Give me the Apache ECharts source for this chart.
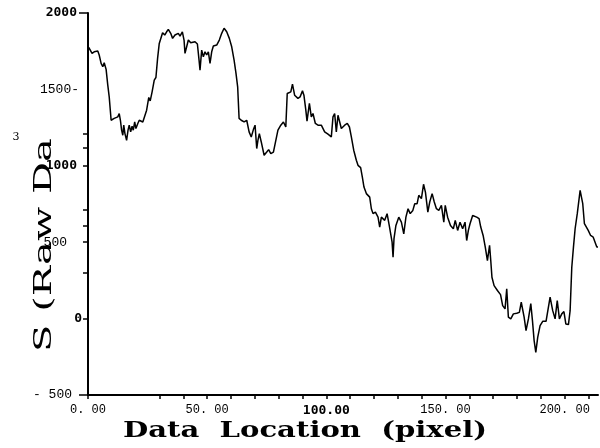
<!DOCTYPE html>
<html>
<head>
<meta charset="utf-8">
<script src="https://cdn.jsdelivr.net/npm/echarts@6/dist/echarts.min.js"></script>
<style>html,body{margin:0;padding:0;background:#fff}#c{width:600px;height:448px}</style>
</head>
<body>
<div id="c"></div>
<script>
// Data location (pixel)
var xVals = [0.3,1.7,2.6,4.1,4.7,5.5,6.2,6.8,7.6,8.3,8.9,9.7,10.4,11.0,11.7,12.5,13.1,13.6,14.1,14.6,15.0,15.5,16.2,16.8,17.3,17.9,18.5,19.0,19.6,20.1,20.9,21.5,23.0,23.8,24.6,25.5,26.1,26.9,27.8,28.5,29.2,29.9,31.3,32.2,33.0,33.7,34.7,35.5,36.5,37.2,37.9,38.6,39.6,40.3,40.7,41.4,42.1,43.1,43.9,44.9,45.9,46.6,47.0,47.7,48.4,49.1,49.8,50.5,51.2,51.9,52.6,53.3,54.0,55.1,56.1,57.1,58.2,59.3,60.3,61.3,62.1,62.8,63.4,64.3,65.5,66.6,67.6,68.5,69.4,70.1,70.8,71.3,71.9,72.7,73.9,75.0,75.8,76.7,77.8,78.6,79.7,80.9,82.0,83.0,83.6,84.3,85.1,85.8,86.7,87.3,88.1,89.0,90.0,90.6,91.4,91.9,92.9,93.7,94.4,95.4,96.5,97.9,99.3,100.7,102.1,102.8,103.5,104.2,104.9,105.6,106.3,107.7,108.8,109.7,110.5,111.5,112.6,113.3,114.4,115.1,115.8,116.8,118.2,118.9,119.6,120.6,121.7,122.4,123.1,124.5,125.5,126.4,127.6,128.0,128.4,129.2,130.4,131.5,132.5,133.4,134.3,135.2,136.3,137.1,138.1,138.8,139.9,140.8,141.6,142.6,143.4,144.4,145.3,146.2,147.2,148.3,149.3,149.9,150.9,152.1,153.3,154.1,155.1,156.1,157.2,158.2,158.9,159.6,160.3,161.4,163.1,164.1,164.8,165.8,166.7,167.6,168.5,169.0,169.5,170.4,171.8,173.1,174.0,175.0,175.7,176.4,177.4,178.5,179.9,181.0,181.8,183.0,183.8,184.8,185.8,186.5,187.2,187.9,188.7,189.7,190.8,192.2,192.9,193.9,195.0,196.0,196.9,197.8,198.8,199.7,200.5,201.6,202.3,203.0,203.7,204.4,205.3,206.5,207.6,208.3,209.9,210.9,212.0,213.5,214.0];
// S (Raw Data)^3 values
var yVals = [1775,1736,1746,1751,1725,1670,1648,1674,1631,1528,1451,1298,1298,1310,1303,1320,1342,1298,1233,1200,1266,1211,1167,1233,1266,1222,1259,1233,1287,1244,1277,1298,1287,1294,1364,1447,1425,1484,1561,1578,1703,1801,1871,1856,1877,1893,1867,1834,1856,1845,1867,1849,1877,1823,1736,1779,1823,1805,1818,1812,1797,1692,1626,1757,1713,1746,1725,1746,1670,1746,1784,1775,1790,1823,1867,1900,1877,1834,1779,1692,1605,1517,1310,1298,1287,1298,1222,1189,1237,1266,1113,1167,1211,1156,1069,1090,1106,1080,1090,1102,1233,1266,1287,1254,1473,1462,1484,1534,1462,1473,1441,1451,1491,1462,1364,1292,1408,1320,1342,1277,1266,1266,1222,1207,1189,1320,1342,1222,1331,1342,1244,1266,1277,1254,1189,1102,1036,1003,988,927,861,818,795,719,687,697,664,599,664,643,687,610,500,402,523,610,664,631,555,664,719,687,708,752,752,807,785,879,826,697,763,818,763,719,708,741,631,741,664,610,588,643,577,631,588,631,511,577,621,675,664,654,599,544,468,380,479,380,271,216,184,157,85,64,195,9,-2,31,35,41,107,9,-79,-2,98,-13,-144,-221,-123,-46,-18,-18,-13,140,52,-2,118,-2,31,46,-35,-39,52,336,468,588,687,839,752,621,577,544,533,468,468];

var xLabelValues = [0, 50, 100, 150, 200];
var xLabelTexts = ['0. 00', '50. 00', '100.00', '150. 00', '200. 00'];
var xTickValues = [0, 30, 40, 50, 60, 70, 80, 90, 100, 110, 120, 130, 140, 150, 160, 170, 180, 190, 200, 210];
var yLabelValues = [-500, 0, 500, 1000, 1500, 2000];
var yLabelTexts = ['- 500', '0', '500', '1000', '1500-', '2000'];
var yTickValues = [0, 302, 500, 610, 715, 1000, 1115, 1213];
var yLongTickValues = [-500, 2000];
var xName = 'Data  Location  (pixel)';
var yName = 'S (Raw Da';
var yNameSup = '3';

var n = Math.min(xVals.length, yVals.length);
var seriesData = [];
for (var i = 0; i < n; i++) seriesData.push([xVals[i], yVals[i]]);

function measure(text, font) {
  var ctx = document.createElement('canvas').getContext('2d');
  ctx.font = font;
  return ctx.measureText(text).width;
}

var xNameFont = 'bold 23px "DejaVu Serif"';
var yNameFont = '25px "DejaVu Serif"';
var xNameScale = 364 / measure(xName, xNameFont);
var yNameScale = 214 / measure(yName, yNameFont);

var yRichKey = {'-500': 'm', '0': 'z', '500': 'd', '1000': 'a', '1500': 'c', '2000': 'a'};

var chart = echarts.init(document.getElementById('c'), null, {renderer: 'canvas'});
chart.setOption({
  animation: false,
  backgroundColor: '#fff',
  grid: {left: 88, top: 13, width: 510, height: 382, containLabel: false},
  xAxis: {
    type: 'value', min: 0, max: 214,
    axisLine: {onZero: false, lineStyle: {color: '#000', width: 2}},
    axisTick: {show: true, length: 4, customValues: xTickValues, lineStyle: {color: '#000', width: 1.5}},
    splitLine: {show: false},
    axisLabel: {
      customValues: xLabelValues, margin: 9,
      formatter: function (v) {
        var idx = xLabelValues.indexOf(v);
        var t = idx >= 0 ? xLabelTexts[idx] : '';
        return v === 100 ? '{b|' + t + '}' : '{n|' + t + '}';
      },
      rich: {
        n: {fontFamily: 'Liberation Mono', fontSize: 12, color: '#000'},
        b: {fontFamily: 'DejaVu Sans Mono', fontWeight: 'bold', fontSize: 13, color: '#000'}
      }
    }
  },
  yAxis: [{
    type: 'value', min: -500, max: 2000, interval: 500,
    axisLine: {onZero: false, lineStyle: {color: '#000', width: 2}},
    axisTick: {show: true, length: 5, customValues: yTickValues, lineStyle: {color: '#000', width: 1.5}},
    splitLine: {show: false},
    axisLabel: {
      margin: 6,
      formatter: function (v) {
        var idx = yLabelValues.indexOf(v);
        if (idx < 0) return '';
        return '{' + yRichKey[String(v)] + '|' + yLabelTexts[idx] + '}';
      },
      rich: {
        a: {fontFamily: 'DejaVu Sans Mono', fontWeight: 'bold', fontSize: 13, color: '#000', padding: [0, 5, 0, 0]},
        z: {fontFamily: 'DejaVu Sans Mono', fontWeight: 'bold', fontSize: 13, color: '#000'},
        c: {fontFamily: 'Liberation Mono', fontSize: 13, color: '#000', padding: [0, 3, 0, 0]},
        d: {fontFamily: 'Liberation Mono', fontSize: 13, color: '#000', padding: [0, 15, 0, 0]},
        m: {fontFamily: 'Liberation Mono', fontSize: 13, color: '#000', padding: [0, 10, 0, 0]}
      }
    }
  }, {
    type: 'value', min: -500, max: 2000, position: 'left', offset: 0,
    axisLine: {show: false},
    axisLabel: {show: false},
    splitLine: {show: false},
    axisTick: {show: true, length: 9, customValues: yLongTickValues, lineStyle: {color: '#000', width: 1.5}}
  }],
  graphic: [
    {type: 'text', x: 305, y: 431, scaleX: xNameScale,
     style: {text: xName, font: xNameFont, fill: '#000', align: 'center', verticalAlign: 'middle'}},
    {type: 'text', x: 44, y: 245, rotation: Math.PI / 2, scaleX: yNameScale,
     style: {text: yName, font: yNameFont, fill: '#000', align: 'center', verticalAlign: 'middle'}},
    {type: 'text', x: 16, y: 137,
     style: {text: yNameSup, font: '11px "DejaVu Serif"', fill: '#000', align: 'center', verticalAlign: 'middle'}}
  ],
  series: [{
    type: 'line', data: seriesData, showSymbol: false, symbol: 'none',
    lineStyle: {color: '#000', width: 1.5}, yAxisIndex: 0
  }]
});
</script>
</body>
</html>
